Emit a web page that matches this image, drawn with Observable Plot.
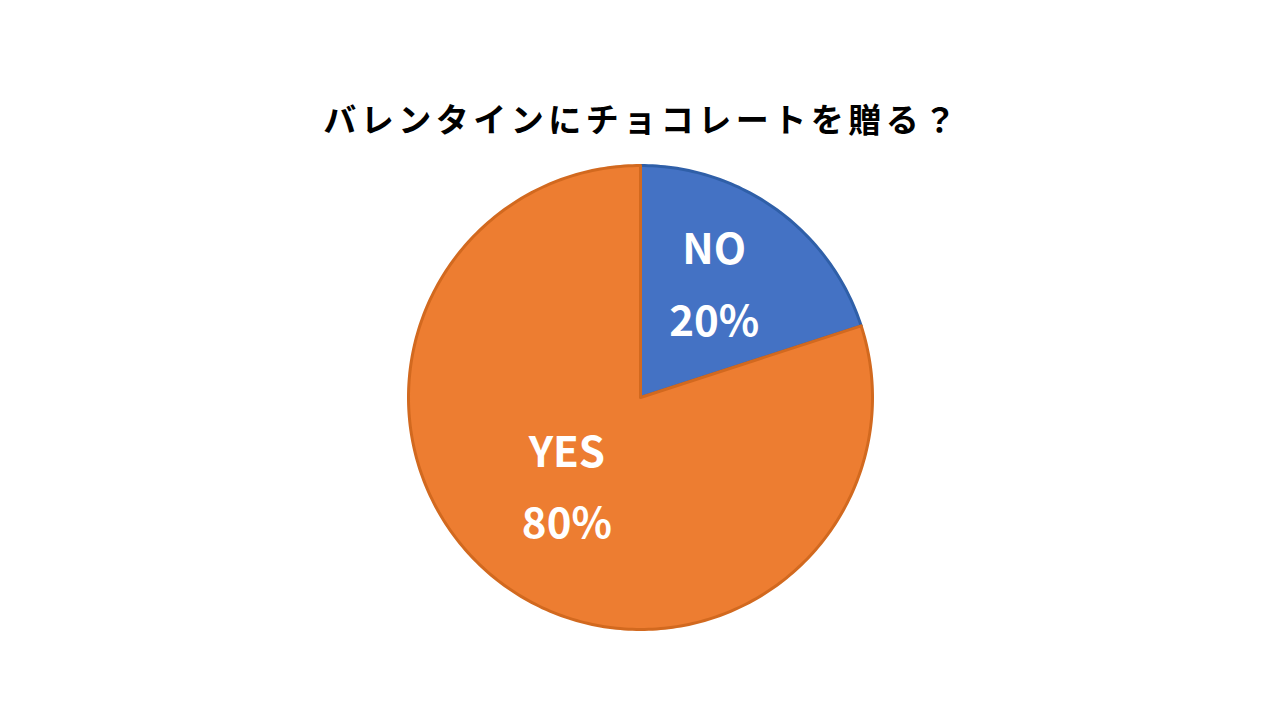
<!DOCTYPE html>
<html>
<head>
<meta charset="utf-8">
<script src="https://cdn.jsdelivr.net/npm/d3@7"></script>
<script src="https://cdn.jsdelivr.net/npm/@observablehq/plot@0.6"></script>
<style>
  html, body { margin: 0; padding: 0; background: #fff; }
  #title {
    width: 1280px; height: 150px; box-sizing: border-box;
    padding-top: 97px; text-align: center;
    font-family: "Noto Sans CJK JP", sans-serif; font-weight: bold;
    font-size: 33px; line-height: 42px; letter-spacing: 4.5px; color: #000;
    padding-left: 4px;
  }
  #chart svg { display: block; }
</style>
</head>
<body>
<div id="title">バレンタインにチョコレートを贈る？</div>
<div id="chart"></div>
<script>
const title = "バレンタインにチョコレートを贈る？";
const categories = ["NO", "YES"];
const values = [20, 80];
const fills = ["#4472C4", "#ED7D31"];
const strokes = ["#2F5FA8", "#D2691F"];

const pie = d3.pie().sort(null).value((d) => d.value);
const slices = pie(categories.map((c, i) => ({category: c, value: values[i]})));

// polygon outlines of each slice on a unit circle (angle 0 = top, clockwise)
const outlines = slices.map((s) => {
  const pts = [{x: 0, y: 0}];
  const n = Math.max(2, Math.ceil((s.endAngle - s.startAngle) / (Math.PI / 180)));
  for (let k = 0; k <= n; k++) {
    const a = s.startAngle + (s.endAngle - s.startAngle) * k / n;
    pts.push({x: Math.sin(a), y: Math.cos(a)});
  }
  pts.push({x: 0, y: 0});
  return pts;
});

const labelR = 0.54;
const labels = slices.map((s) => {
  const a = (s.startAngle + s.endAngle) / 2;
  return {x: labelR * Math.sin(a), y: labelR * Math.cos(a),
          text: `${s.data.category}\n${s.data.value}%`};
});

const chart = Plot.plot({
  width: 1280,
  height: 570,
  marginLeft: 408,
  marginRight: 408,
  marginTop: 15,
  marginBottom: 91,
  x: {domain: [-1, 1], axis: null},
  y: {domain: [-1, 1], axis: null},
  marks: [
    ...outlines.map((pts, i) => Plot.line(pts, {
      x: "x", y: "y", fill: fills[i], stroke: strokes[i],
      strokeWidth: 3, strokeLinejoin: "round", curve: "linear"
    })),
    Plot.text(labels, {
      x: "x", y: "y", text: "text", fill: "white",
      fontSize: 42, fontWeight: "bold", lineHeight: 1.7, dy: -19,
      fontFamily: "\"Noto Sans CJK JP\", sans-serif"
    })
  ]
});
document.getElementById("chart").appendChild(chart);
</script>
</body>
</html>
